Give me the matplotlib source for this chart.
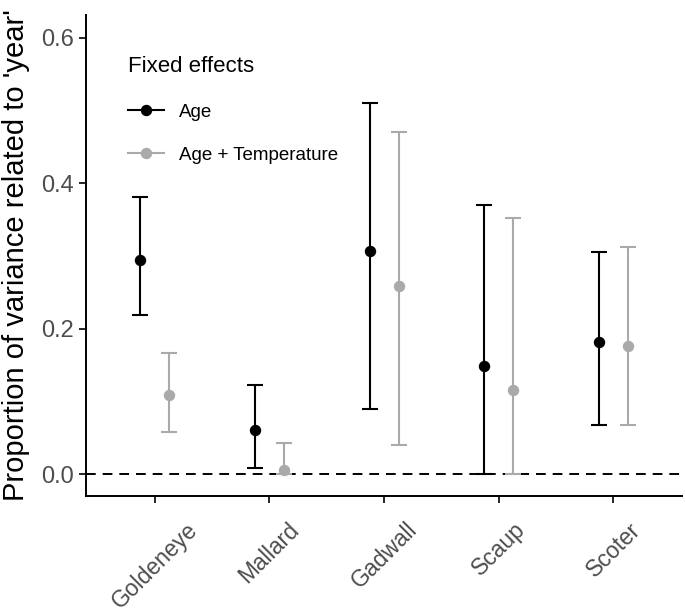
import matplotlib
matplotlib.use("Agg")
import matplotlib.pyplot as plt
from matplotlib.lines import Line2D
import matplotlib.transforms as mtransforms
import numpy as np

plt.rcParams['font.family'] = ['Liberation Sans', 'DejaVu Sans']
plt.rcParams['lines.scale_dashes'] = False

species = ["Goldeneye", "Mallard", "Gadwall", "Scaup", "Scoter"]
series = ["Age", "Age + Temperature"]
est_age = [0.294, 0.060, 0.307, 0.148, 0.182]
low_age = [0.218, 0.008, 0.089, 0.000, 0.067]
high_age = [0.381, 0.123, 0.510, 0.370, 0.305]
est_temp = [0.108, 0.006, 0.258, 0.116, 0.176]
low_temp = [0.058, 0.000, 0.040, 0.000, 0.068]
high_temp = [0.167, 0.042, 0.470, 0.352, 0.312]
colors = ["#000000", "#AAAAAA"]
yticks = [0.0, 0.2, 0.4, 0.6]

fig = plt.figure(figsize=(6.85, 6.12), dpi=100)
ax = fig.add_axes([0.1255, 0.1895, 0.996 - 0.1255, 0.9755 - 0.1895])

x = np.arange(1, len(species) + 1)
dodge = 0.126
data = [(est_age, low_age, high_age), (est_temp, low_temp, high_temp)]
for i, (est, lo, hi) in enumerate(data):
    est = np.array(est); lo = np.array(lo); hi = np.array(hi)
    xi = x + (-dodge if i == 0 else dodge)
    ax.errorbar(xi, est, yerr=[est - lo, hi - est], fmt='o', color=colors[i],
                ecolor=colors[i], elinewidth=1.5, capsize=6.1, capthick=1.5,
                markersize=7.2, zorder=3)

ax.axhline(0, color='black', lw=1.4, dashes=(7, 5), zorder=2)

ax.set_xlim(0.4, 5.6)
ax.set_ylim(-0.0302, 0.631)
ax.set_xticks(x)
ax.set_xticklabels(species, rotation=45, ha='center', va='top',
                   fontsize=16.5, color='#4D4D4D')
offset = mtransforms.ScaledTranslation(-5 / 100, 0, fig.dpi_scale_trans)
for lab in ax.get_xticklabels():
    lab.set_transform(lab.get_transform() + offset)
ax.set_yticks(yticks)
ax.set_yticklabels([f"{v:.1f}" for v in yticks], fontsize=17, color='#4D4D4D')
ax.tick_params(axis='both', length=5, width=1.2, color='black')
ax.tick_params(axis='x', pad=11)
for s in ['top', 'right']:
    ax.spines[s].set_visible(False)
for s in ['left', 'bottom']:
    ax.spines[s].set_linewidth(1.4)
ax.set_ylabel("Proportion of variance related to 'year'", fontsize=21, labelpad=8)

handles = [Line2D([0], [0], color=colors[i], lw=1.5, marker='o', markersize=7.2)
           for i in range(2)]
leg = ax.legend(handles, series, title="Fixed effects", loc='upper left',
                bbox_to_anchor=(0.058, 0.93), frameon=False, fontsize=13.5,
                title_fontsize=16, handlelength=1.9, labelspacing=1.4,
                handletextpad=0.8, borderaxespad=0)
leg._legend_box.align = "left"
leg._legend_box.sep = 19

fig.savefig("out.png", dpi=100)
